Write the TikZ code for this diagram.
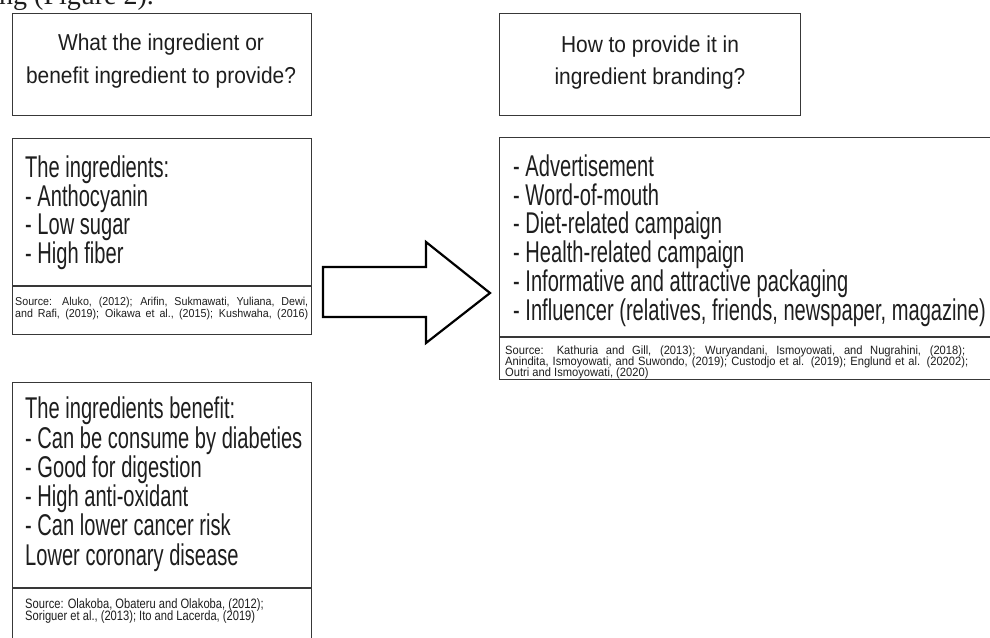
\documentclass[tikz,border=0pt]{standalone}
\usepackage{fontspec}
\newfontfamily\bodyf[FakeStretch=0.67]{Liberation Sans}
\newfontfamily\titlef[FakeStretch=0.91]{Liberation Sans}
\newfontfamily\srcf[FakeStretch=0.82]{Liberation Sans}
\newfontfamily\srcwf[FakeStretch=0.93]{Liberation Sans}
\newfontfamily\pagef{Liberation Serif}
\definecolor{ink}{HTML}{1E1E1E}
\definecolor{edge}{HTML}{383838}
\tikzset{
  panel/.style={draw=edge, line width=1.4pt, rectangle, inner sep=0pt, anchor=north west},
  rule/.style={draw=edge, line width=1.4pt},
  titletxt/.style={anchor=base, inner sep=0pt, text=ink, font=\titlef\fontsize{23}{23}\selectfont},
  bodytxt/.style={anchor=base west, inner sep=0pt, text=ink, font=\bodyf\fontsize{30}{30}\selectfont},
  srctxt/.style={anchor=base west, inner sep=0pt, text=ink},
  blockarrow/.style={draw=black, line width=2.2pt, fill=white, line join=miter}
}
\begin{document}
\begin{tikzpicture}[x=1pt,y=-1pt]
\useasboundingbox (0,0) rectangle (990,637);
\clip (0,0) rectangle (990,637);
\fill[white] (0,0) rectangle (990,637);

% fragment of page text cut by the top edge
\node[anchor=base west, inner sep=0pt, text=ink, font=\pagef\fontsize{28}{28}\selectfont] (pagetext) at (-1,5) {ng (Figure 2).};

% panels
\node[panel, minimum width=299pt, minimum height=102pt] (q1) at (12,13) {};
\node[panel, minimum width=299pt, minimum height=196pt] (ing) at (12,138) {};
\draw[rule] (12,286) -- (311,286);
\node[panel, minimum width=299pt, minimum height=280pt] (ben) at (12,382) {};
\draw[rule] (12,588) -- (311,588);
\node[panel, minimum width=301pt, minimum height=102pt] (q2) at (499,13) {};
\node[panel, minimum width=520pt, minimum height=242pt] (how) at (499,137) {};
\draw[rule] (499,337) -- (1019,337);

% titles
\node[titletxt] (q1a) at (161,50) {What the ingredient or};
\node[titletxt] (q1b) at (161,83) {benefit ingredient to provide?};
\node[titletxt] (q2a) at (650,52) {How to provide it in};
\node[titletxt] (q2b) at (650,84) {ingredient branding?};

% ingredients
\node[bodytxt] (i0) at (25,177) {The ingredients:};
\node[bodytxt] (i1) at (25,206) {- Anthocyanin};
\node[bodytxt] (i2) at (25,234.5) {- Low sugar};
\node[bodytxt] (i3) at (25,263) {- High fiber};
\node[srctxt, font=\srcwf\fontsize{11.5}{11.5}\selectfont] (is1) at (15,305.5) {\makebox[293pt][s]{Source: Aluko, (2012); Arifin, Sukmawati, Yuliana, Dewi,}};
\node[srctxt, font=\srcwf\fontsize{11.5}{11.5}\selectfont] (is2) at (15,317) {\makebox[293pt][s]{and Rafi, (2019); Oikawa et al., (2015); Kushwaha, (2016)}};

% benefits
\node[bodytxt] (b0) at (25,418) {The ingredients benefit:};
\node[bodytxt] (b1) at (25,448) {- Can be consume by diabeties};
\node[bodytxt] (b2) at (25,477) {- Good for digestion};
\node[bodytxt] (b3) at (25,506.5) {- High anti-oxidant};
\node[bodytxt] (b4) at (25,535.5) {- Can lower cancer risk};
\node[bodytxt] (b5) at (25,565) {Lower coronary disease};
\node[srctxt, font=\srcf\fontsize{13.6}{13.6}\selectfont] (bs1) at (25,608) {Source: Olakoba, Obateru and Olakoba, (2012);};
\node[srctxt, font=\srcf\fontsize{13.6}{13.6}\selectfont] (bs2) at (25,620) {Soriguer et al., (2013); Ito and Lacerda, (2019)};

% how to provide
\node[bodytxt] (h1) at (513,176) {- Advertisement};
\node[bodytxt] (h2) at (513,205) {- Word-of-mouth};
\node[bodytxt] (h3) at (513,233.5) {- Diet-related campaign};
\node[bodytxt] (h4) at (513,262.5) {- Health-related campaign};
\node[bodytxt] (h5) at (513,291.5) {- Informative and attractive packaging};
\node[bodytxt] (h6) at (513,320) {- Influencer (relatives, friends, newspaper, magazine)};
\node[srctxt, font=\srcwf\fontsize{12}{12}\selectfont] (hs1) at (505,354) {\makebox[460pt][s]{Source: Kathuria and Gill, (2013); Wuryandani, Ismoyowati, and Nugrahini, (2018);}};
\node[srctxt, font=\srcwf\fontsize{12}{12}\selectfont] (hs2) at (505,365) {\makebox[463pt][s]{Anindita, Ismoyowati, and Suwondo, (2019); Custodjo et al. (2019); Englund et al. (20202);}};
\node[srctxt, font=\srcwf\fontsize{12}{12}\selectfont] (hs3) at (505,376) {Outri and Ismoyowati, (2020)};

% block arrow from the left column to the right column
\draw[blockarrow] (323,267) -- (426,267) -- (426,242) -- (490,293) -- (426,343) -- (426,317) -- (323,317) -- cycle;
\end{tikzpicture}
\end{document}
